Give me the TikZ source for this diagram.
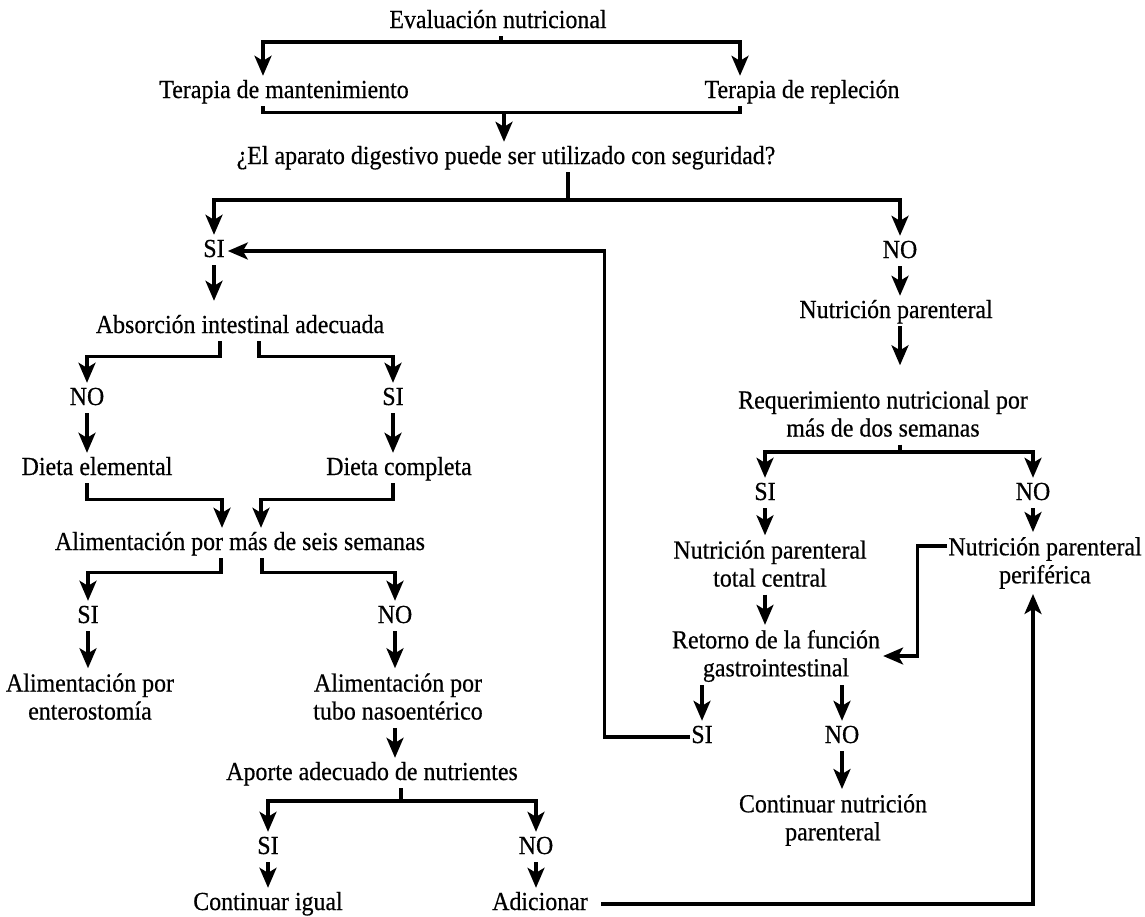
\documentclass[tikz,border=0pt]{standalone}
\usepackage{fontspec}
\setmainfont{Liberation Serif}[FakeStretch=0.92,FakeBold=0.5]
\usetikzlibrary{arrows.meta,calc}
% struts that fix the height of the first line and the depth of the last line
\newcommand{\tst}{\rule{0pt}{17pt}}
\newcommand{\bst}{\rule[-5pt]{0pt}{5pt}}
\begin{document}
\begin{tikzpicture}[x=1pt,y=-1pt,
  lbl/.style={inner xsep=1pt, inner ysep=3pt, text height=17pt, text depth=5pt,
              font=\fontsize{26}{28}\selectfont},
  ml/.style={inner xsep=1pt, inner ysep=3pt, align=center,
             font=\fontsize{26}{28}\selectfont},
  link/.style={line width=3.2pt},
  arr/.style={link, -{Stealth[length=20pt,width=17pt,inset=5pt]}, shorten >=2pt},
]
\useasboundingbox (0,0) rectangle (1145,916);

% ---------- labels ----------
\node[lbl] (E)   at (498,22)  {Evaluación nutricional};
\node[lbl] (TM)  at (284,92)  {Terapia de mantenimiento};
\node[lbl] (TR)  at (802,92)  {Terapia de repleción};
\node[lbl] (Q)   at (506,158) {¿El aparato digestivo puede ser utilizado con seguridad?};
\node[lbl] (SI1) at (214,251) {SI};
\node[lbl] (NO1) at (900,252) {NO};
\node[lbl] (A)   at (240,327) {Absorción intestinal adecuada};
\node[lbl] (NO2) at (87,399)  {NO};
\node[lbl] (SI2) at (393,399) {SI};
\node[lbl] (DE)  at (97,469)  {Dieta elemental};
\node[lbl] (DC)  at (399,469) {Dieta completa};
\node[lbl] (AL)  at (240,544) {Alimentación por más de seis semanas};
\node[lbl] (SI3) at (88,617)  {SI};
\node[lbl] (NO3) at (395,617) {NO};
\node[ml]  (AE)  at (90,699)  {\tst Alimentación por\\enterostomía\bst};
\node[ml]  (AN)  at (398,699) {\tst Alimentación por\\tubo nasoentérico\bst};
\node[lbl] (AP)  at (372,774) {Aporte adecuado de nutrientes};
\node[lbl] (SI4) at (268,848) {SI};
\node[lbl] (NO4) at (536,848) {NO};
\node[lbl] (CI)  at (268,904) {Continuar igual};
\node[lbl] (AD)  at (540,904) {Adicionar};

\node[lbl] (NP)  at (896,312) {Nutrición parenteral};
\node[ml]  (RQ)  at (883,416) {\tst Requerimiento nutricional por\\más de dos semanas\bst};
\node[lbl] (SI5) at (765,494) {SI};
\node[lbl] (NO5) at (1033,494) {NO};
\node[ml]  (NPTC) at (770,566) {\tst Nutrición parenteral\\total central\bst};
\node[ml]  (NPP)  at (1045,563) {\tst Nutrición parenteral\\periférica\bst};
\node[ml]  (RT)   at (776,656) {\tst Retorno de la función\\gastrointestinal\bst};
\node[lbl] (SI6) at (702,737) {SI};
\node[lbl] (NO6) at (842,737) {NO};
\node[ml]  (CN)  at (833,820) {\tst Continuar nutrición\\parenteral\bst};

% ---------- top of the chart ----------
\coordinate (jE) at (501,42);
\draw[link] (E.south -| jE) -- (jE);
\draw[arr] (jE) -| ($(TM.north)+(-21,0)$);
\draw[arr] (jE) -| ($(TR.north)+(-62,0)$);
\draw[link] ($(TM.south)+(-21,0)$) -- ++(0,6) -| ($(TR.south)+(-62,0)$);
\coordinate (jT) at (504,112);
\draw[arr] (jT) -- (jT |- Q.north);
\coordinate (jQ) at (568,200);
\draw[link] (Q.south -| jQ) -- (jQ);
\draw[arr] (jQ) -| (SI1.north);
\draw[arr] (jQ) -| (NO1.north);

% ---------- enteral branch ----------
\draw[arr, shorten >=12pt] (SI1.south) -- (SI1.south |- A.north);
\draw[arr] ($(A.south)+(-20,0)$) -- ++(0,15) -| (NO2.north);
\draw[arr] ($(A.south)+(19,0)$) -- ++(0,15) -| (SI2.north);
\draw[arr] (NO2.south) -- (NO2.south |- DE.north);
\draw[arr] (SI2.south) -- (SI2.south |- DC.north);
\draw[arr] (DE.south -| NO2.south) -- ++(0,16) -| ($(AL.north)+(-18,0)$);
\draw[arr] (DC.south -| SI2.south) -- ++(0,16) -| ($(AL.north)+(21,0)$);
\draw[arr] ($(AL.south)+(-19,0)$) -- ++(0,14) -| (SI3.north);
\draw[arr] ($(AL.south)+(22,0)$) -- ++(0,14) -| (NO3.north);
\draw[arr] (SI3.south) -- (SI3.south |- AE.north);
\draw[arr] (NO3.south) -- (NO3.south |- AN.north);
\draw[arr] (AN.south -| NO3.south) -- (NO3.south |- AP.north);
\coordinate (jP) at (401,801);
\draw[link] (AP.south -| jP) -- (jP);
\draw[arr] (jP) -| (SI4.north);
\draw[arr] (jP) -| (NO4.north);
\draw[arr] (SI4.south) -- (SI4.south |- CI.north);
\draw[arr] (NO4.south) -- (NO4.south |- AD.north);
\draw[arr] ($(AD.east)+(12,0)$) -| (NO5.south |- NPP.south);

% ---------- parenteral branch ----------
\draw[arr] (NO1.south) -- (NO1.south |- NP.north);
\draw[arr, shorten >=22pt] (NP.south -| NO1.south) -- (NO1.south |- RQ.north);
\coordinate (jR) at (900,452);
\draw[link] (RQ.south -| jR) -- (jR);
\draw[arr] (jR) -| (SI5.north);
\draw[arr] (jR) -| (NO5.north);
\draw[arr] (SI5.south) -- (SI5.south |- NPTC.north);
\draw[arr] (NO5.south) -- (NO5.south |- NPP.north);
\draw[arr] (NPTC.south -| SI5.south) -- (SI5.south |- RT.north);
\draw[arr] (RT.south -| SI6.north) -- (SI6.north);
\draw[arr] (RT.south -| NO6.north) -- (NO6.north);
\draw[arr] (NO6.south) -- (NO6.south |- CN.north);

% ---------- return paths ----------
\draw[arr] (SI6.west) -- ++(-86,0) |- (SI1.east);
\draw[arr] ($(NPP.north west)+(0,12)$) -- ++(-30,0) |- (RT.east);
\end{tikzpicture}
\end{document}
